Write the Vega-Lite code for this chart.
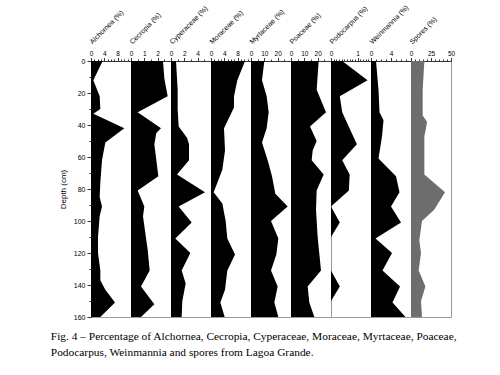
{
  "$schema": "https://vega.github.io/schema/vega-lite/v6.json",
  "background": "white",
  "padding": {"left": 50, "top": 2, "right": 5, "bottom": 5},
  "bounds": "flush",
  "spacing": 0,
  "title": {
    "text": ["Fig. 4 – Percentage of Alchornea, Cecropia, Cyperaceae, Moraceae, Myrtaceae, Poaceae,", "Podocarpus, Weinmannia and spores from Lagoa Grande."],
    "orient": "bottom", "anchor": "start", "font": "Liberation Serif", "fontSize": 11.4,
    "fontWeight": "normal", "lineHeight": 16, "offset": 10, "dx": -8, "color": "black"
  },
  "data": {"values": [
    {"taxon": "Alchornea", "depth": 0, "pct": 3.5}, {"taxon": "Alchornea", "depth": 12, "pct": 0.7}, {"taxon": "Alchornea", "depth": 22, "pct": 2.6}, {"taxon": "Alchornea", "depth": 30, "pct": 2.8}, {"taxon": "Alchornea", "depth": 33, "pct": 0.7}, {"taxon": "Alchornea", "depth": 42, "pct": 10}, {"taxon": "Alchornea", "depth": 51, "pct": 4.3}, {"taxon": "Alchornea", "depth": 62, "pct": 3.3}, {"taxon": "Alchornea", "depth": 76, "pct": 2.8}, {"taxon": "Alchornea", "depth": 85, "pct": 2.6}, {"taxon": "Alchornea", "depth": 91, "pct": 3.3}, {"taxon": "Alchornea", "depth": 97, "pct": 2.6}, {"taxon": "Alchornea", "depth": 110, "pct": 2.1}, {"taxon": "Alchornea", "depth": 120, "pct": 2.1}, {"taxon": "Alchornea", "depth": 131, "pct": 2.8}, {"taxon": "Alchornea", "depth": 137, "pct": 2.8}, {"taxon": "Alchornea", "depth": 143, "pct": 4.3}, {"taxon": "Alchornea", "depth": 151, "pct": 7.2}, {"taxon": "Alchornea", "depth": 160, "pct": 2.8},
    {"taxon": "Cecropia", "depth": 0, "pct": 2.4}, {"taxon": "Cecropia", "depth": 11, "pct": 2.5}, {"taxon": "Cecropia", "depth": 22, "pct": 2.75}, {"taxon": "Cecropia", "depth": 32, "pct": 0.5}, {"taxon": "Cecropia", "depth": 42, "pct": 2.25}, {"taxon": "Cecropia", "depth": 45, "pct": 1.9}, {"taxon": "Cecropia", "depth": 52, "pct": 1.75}, {"taxon": "Cecropia", "depth": 62, "pct": 1.9}, {"taxon": "Cecropia", "depth": 72, "pct": 2.05}, {"taxon": "Cecropia", "depth": 81, "pct": 0.5}, {"taxon": "Cecropia", "depth": 91, "pct": 1.0}, {"taxon": "Cecropia", "depth": 97, "pct": 0.9}, {"taxon": "Cecropia", "depth": 109, "pct": 1.1}, {"taxon": "Cecropia", "depth": 118, "pct": 1.25}, {"taxon": "Cecropia", "depth": 131, "pct": 1.4}, {"taxon": "Cecropia", "depth": 141, "pct": 0.75}, {"taxon": "Cecropia", "depth": 152, "pct": 1.75}, {"taxon": "Cecropia", "depth": 160, "pct": 0.75},
    {"taxon": "Cyperaceae", "depth": 0, "pct": 0.75}, {"taxon": "Cyperaceae", "depth": 18, "pct": 1.0}, {"taxon": "Cyperaceae", "depth": 30, "pct": 1.0}, {"taxon": "Cyperaceae", "depth": 41, "pct": 1.15}, {"taxon": "Cyperaceae", "depth": 48, "pct": 2.4}, {"taxon": "Cyperaceae", "depth": 52, "pct": 2.7}, {"taxon": "Cyperaceae", "depth": 62, "pct": 2.7}, {"taxon": "Cyperaceae", "depth": 71, "pct": 0.9}, {"taxon": "Cyperaceae", "depth": 82, "pct": 5.1}, {"taxon": "Cyperaceae", "depth": 91, "pct": 1.15}, {"taxon": "Cyperaceae", "depth": 101, "pct": 3.1}, {"taxon": "Cyperaceae", "depth": 111, "pct": 0.65}, {"taxon": "Cyperaceae", "depth": 120, "pct": 2.9}, {"taxon": "Cyperaceae", "depth": 131, "pct": 1.6}, {"taxon": "Cyperaceae", "depth": 139, "pct": 2.2}, {"taxon": "Cyperaceae", "depth": 150, "pct": 1.7}, {"taxon": "Cyperaceae", "depth": 160, "pct": 1.6},
    {"taxon": "Moraceae", "depth": 0, "pct": 10.2}, {"taxon": "Moraceae", "depth": 12, "pct": 7.9}, {"taxon": "Moraceae", "depth": 22, "pct": 6.9}, {"taxon": "Moraceae", "depth": 29, "pct": 6.9}, {"taxon": "Moraceae", "depth": 42, "pct": 3.9}, {"taxon": "Moraceae", "depth": 56, "pct": 4.2}, {"taxon": "Moraceae", "depth": 68, "pct": 3.4}, {"taxon": "Moraceae", "depth": 82, "pct": 0.8}, {"taxon": "Moraceae", "depth": 89, "pct": 3.4}, {"taxon": "Moraceae", "depth": 100, "pct": 4.4}, {"taxon": "Moraceae", "depth": 111, "pct": 4.9}, {"taxon": "Moraceae", "depth": 121, "pct": 7.2}, {"taxon": "Moraceae", "depth": 131, "pct": 4.9}, {"taxon": "Moraceae", "depth": 143, "pct": 4.2}, {"taxon": "Moraceae", "depth": 151, "pct": 2.8}, {"taxon": "Moraceae", "depth": 160, "pct": 4.1},
    {"taxon": "Myrtaceae", "depth": 0, "pct": 10}, {"taxon": "Myrtaceae", "depth": 12, "pct": 8.25}, {"taxon": "Myrtaceae", "depth": 22, "pct": 11.75}, {"taxon": "Myrtaceae", "depth": 32, "pct": 13.25}, {"taxon": "Myrtaceae", "depth": 42, "pct": 11.75}, {"taxon": "Myrtaceae", "depth": 51, "pct": 8.25}, {"taxon": "Myrtaceae", "depth": 62, "pct": 12.5}, {"taxon": "Myrtaceae", "depth": 72, "pct": 15.75}, {"taxon": "Myrtaceae", "depth": 83, "pct": 18.25}, {"taxon": "Myrtaceae", "depth": 91, "pct": 27.5}, {"taxon": "Myrtaceae", "depth": 100, "pct": 15}, {"taxon": "Myrtaceae", "depth": 111, "pct": 20.5}, {"taxon": "Myrtaceae", "depth": 121, "pct": 19}, {"taxon": "Myrtaceae", "depth": 131, "pct": 15}, {"taxon": "Myrtaceae", "depth": 141, "pct": 20}, {"taxon": "Myrtaceae", "depth": 151, "pct": 17.5}, {"taxon": "Myrtaceae", "depth": 160, "pct": 20.5},
    {"taxon": "Poaceae", "depth": 0, "pct": 20.75}, {"taxon": "Poaceae", "depth": 18, "pct": 19.25}, {"taxon": "Poaceae", "depth": 32, "pct": 26.25}, {"taxon": "Poaceae", "depth": 41, "pct": 14.25}, {"taxon": "Poaceae", "depth": 50, "pct": 19.25}, {"taxon": "Poaceae", "depth": 56, "pct": 16.25}, {"taxon": "Poaceae", "depth": 62, "pct": 15.5}, {"taxon": "Poaceae", "depth": 71, "pct": 24.5}, {"taxon": "Poaceae", "depth": 81, "pct": 19.25}, {"taxon": "Poaceae", "depth": 93, "pct": 18.75}, {"taxon": "Poaceae", "depth": 110, "pct": 20}, {"taxon": "Poaceae", "depth": 131, "pct": 22.5}, {"taxon": "Poaceae", "depth": 141, "pct": 12.5}, {"taxon": "Poaceae", "depth": 151, "pct": 13.75}, {"taxon": "Poaceae", "depth": 160, "pct": 17.5},
    {"taxon": "Podocarpus", "depth": 0, "pct": 0.42}, {"taxon": "Podocarpus", "depth": 12, "pct": 1.37}, {"taxon": "Podocarpus", "depth": 22, "pct": 0.33}, {"taxon": "Podocarpus", "depth": 32, "pct": 0.42}, {"taxon": "Podocarpus", "depth": 52, "pct": 0.97}, {"taxon": "Podocarpus", "depth": 62, "pct": 0.42}, {"taxon": "Podocarpus", "depth": 71, "pct": 0.7}, {"taxon": "Podocarpus", "depth": 81, "pct": 0.67}, {"taxon": "Podocarpus", "depth": 91, "pct": 0}, {"taxon": "Podocarpus", "depth": 101, "pct": 0.33}, {"taxon": "Podocarpus", "depth": 110, "pct": 0}, {"taxon": "Podocarpus", "depth": 131, "pct": 0}, {"taxon": "Podocarpus", "depth": 141, "pct": 0.33}, {"taxon": "Podocarpus", "depth": 150, "pct": 0}, {"taxon": "Podocarpus", "depth": 160, "pct": 0},
    {"taxon": "Weinmannia", "depth": 0, "pct": 1.0}, {"taxon": "Weinmannia", "depth": 18, "pct": 1.5}, {"taxon": "Weinmannia", "depth": 32, "pct": 1.7}, {"taxon": "Weinmannia", "depth": 37, "pct": 2.5}, {"taxon": "Weinmannia", "depth": 47, "pct": 2.2}, {"taxon": "Weinmannia", "depth": 61, "pct": 1.5}, {"taxon": "Weinmannia", "depth": 72, "pct": 5.0}, {"taxon": "Weinmannia", "depth": 82, "pct": 5.7}, {"taxon": "Weinmannia", "depth": 91, "pct": 4.0}, {"taxon": "Weinmannia", "depth": 101, "pct": 6.0}, {"taxon": "Weinmannia", "depth": 111, "pct": 0.9}, {"taxon": "Weinmannia", "depth": 120, "pct": 4.2}, {"taxon": "Weinmannia", "depth": 131, "pct": 2.3}, {"taxon": "Weinmannia", "depth": 141, "pct": 5.8}, {"taxon": "Weinmannia", "depth": 151, "pct": 4.3}, {"taxon": "Weinmannia", "depth": 160, "pct": 6.9},
    {"taxon": "Spores", "depth": 0, "pct": 16.7}, {"taxon": "Spores", "depth": 18, "pct": 14.6}, {"taxon": "Spores", "depth": 34, "pct": 14.6}, {"taxon": "Spores", "depth": 38, "pct": 20}, {"taxon": "Spores", "depth": 42, "pct": 18.75}, {"taxon": "Spores", "depth": 47, "pct": 16.7}, {"taxon": "Spores", "depth": 71, "pct": 16.7}, {"taxon": "Spores", "depth": 82, "pct": 42.5}, {"taxon": "Spores", "depth": 93, "pct": 29}, {"taxon": "Spores", "depth": 100, "pct": 13.75}, {"taxon": "Spores", "depth": 112, "pct": 10.4}, {"taxon": "Spores", "depth": 120, "pct": 12.5}, {"taxon": "Spores", "depth": 131, "pct": 9.6}, {"taxon": "Spores", "depth": 141, "pct": 18}, {"taxon": "Spores", "depth": 150, "pct": 12.5}, {"taxon": "Spores", "depth": 160, "pct": 13.75}
  ]},
  "hconcat": [
    {
      "width": 40, "height": 256,
      "transform": [{"filter": "datum.taxon == 'Alchornea'"}],
      "mark": {"type": "area", "orient": "horizontal", "color": "black"},
      "encoding": {
        "y": {"field": "depth", "type": "quantitative", "scale": {"domain": [0, 160], "reverse": true, "nice": false},
          "axis": {"title": "Depth (cm)", "values": [0, 10, 20, 30, 40, 50, 60, 70, 80, 90, 100, 110, 120, 130, 140, 150, 160],
            "labelExpr": "datum.value % 20 == 0 ? datum.label : ''",
            "tickSize": {"condition": {"test": "datum.value % 20 == 0", "value": 4}, "value": 2},
            "labelFontSize": 7, "titleFontSize": 8, "titlePadding": 6, "titleFontWeight": "normal", "labelPadding": 2}},
        "x": {"field": "pct", "type": "quantitative", "scale": {"domain": [0, 12], "nice": false},
          "axis": {"orient": "top", "title": "Alchornea (%)", "titleAngle": -45, "titleAlign": "left", "titleBaseline": "alphabetic", "titleX": 1, "titleY": -17,
            "values": [0, 1, 2, 3, 4, 5, 6, 7, 8, 9, 10, 11],
            "labelExpr": "datum.value % 4 == 0 ? '' + datum.value : ''",
            "tickSize": {"condition": {"test": "datum.value % 4 == 0", "value": 3.5}, "value": 2}}}
      }
    },
    {
      "width": 40, "height": 256,
      "transform": [{"filter": "datum.taxon == 'Cecropia'"}],
      "mark": {"type": "area", "orient": "horizontal", "color": "black"},
      "encoding": {
        "y": {"field": "depth", "type": "quantitative", "scale": {"domain": [0, 160], "reverse": true, "nice": false}, "axis": null},
        "x": {"field": "pct", "type": "quantitative", "scale": {"domain": [0, 3], "nice": false},
          "axis": {"orient": "top", "title": "Cecropia (%)", "titleAngle": -45, "titleAlign": "left", "titleBaseline": "alphabetic", "titleX": 1, "titleY": -17,
            "values": [0, 0.5, 1, 1.5, 2, 2.5],
            "labelExpr": "datum.value % 1 == 0 ? '' + datum.value : ''",
            "tickSize": {"condition": {"test": "datum.value % 1 == 0", "value": 3.5}, "value": 2}}}
      }
    },
    {
      "width": 40, "height": 256,
      "transform": [{"filter": "datum.taxon == 'Cyperaceae'"}],
      "mark": {"type": "area", "orient": "horizontal", "color": "black"},
      "encoding": {
        "y": {"field": "depth", "type": "quantitative", "scale": {"domain": [0, 160], "reverse": true, "nice": false}, "axis": null},
        "x": {"field": "pct", "type": "quantitative", "scale": {"domain": [0, 6], "nice": false},
          "axis": {"orient": "top", "title": "Cyperaceae (%)", "titleAngle": -45, "titleAlign": "left", "titleBaseline": "alphabetic", "titleX": 1, "titleY": -17,
            "values": [0, 1, 2, 3, 4, 5],
            "labelExpr": "datum.value % 2 == 0 ? '' + datum.value : ''",
            "tickSize": {"condition": {"test": "datum.value % 2 == 0", "value": 3.5}, "value": 2}}}
      }
    },
    {
      "width": 40, "height": 256,
      "transform": [{"filter": "datum.taxon == 'Moraceae'"}],
      "mark": {"type": "area", "orient": "horizontal", "color": "black"},
      "encoding": {
        "y": {"field": "depth", "type": "quantitative", "scale": {"domain": [0, 160], "reverse": true, "nice": false}, "axis": null},
        "x": {"field": "pct", "type": "quantitative", "scale": {"domain": [0, 12], "nice": false},
          "axis": {"orient": "top", "title": "Moraceae (%)", "titleAngle": -45, "titleAlign": "left", "titleBaseline": "alphabetic", "titleX": 1, "titleY": -17,
            "values": [0, 1, 2, 3, 4, 5, 6, 7, 8, 9, 10, 11],
            "labelExpr": "datum.value % 4 == 0 ? '' + datum.value : ''",
            "tickSize": {"condition": {"test": "datum.value % 4 == 0", "value": 3.5}, "value": 2}}}
      }
    },
    {
      "width": 40, "height": 256,
      "transform": [{"filter": "datum.taxon == 'Myrtaceae'"}],
      "mark": {"type": "area", "orient": "horizontal", "color": "black"},
      "encoding": {
        "y": {"field": "depth", "type": "quantitative", "scale": {"domain": [0, 160], "reverse": true, "nice": false}, "axis": null},
        "x": {"field": "pct", "type": "quantitative", "scale": {"domain": [0, 30], "nice": false},
          "axis": {"orient": "top", "title": "Myrtaceae (%)", "titleAngle": -45, "titleAlign": "left", "titleBaseline": "alphabetic", "titleX": 1, "titleY": -17,
            "values": [0, 5, 10, 15, 20, 25],
            "labelExpr": "datum.value % 10 == 0 ? '' + datum.value : ''",
            "tickSize": {"condition": {"test": "datum.value % 10 == 0", "value": 3.5}, "value": 2}}}
      }
    },
    {
      "width": 40, "height": 256,
      "transform": [{"filter": "datum.taxon == 'Poaceae'"}],
      "mark": {"type": "area", "orient": "horizontal", "color": "black"},
      "encoding": {
        "y": {"field": "depth", "type": "quantitative", "scale": {"domain": [0, 160], "reverse": true, "nice": false}, "axis": null},
        "x": {"field": "pct", "type": "quantitative", "scale": {"domain": [0, 30], "nice": false},
          "axis": {"orient": "top", "title": "Poaceae (%)", "titleAngle": -45, "titleAlign": "left", "titleBaseline": "alphabetic", "titleX": 1, "titleY": -17,
            "values": [0, 5, 10, 15, 20, 25],
            "labelExpr": "datum.value % 10 == 0 ? '' + datum.value : ''",
            "tickSize": {"condition": {"test": "datum.value % 10 == 0", "value": 3.5}, "value": 2}}}
      }
    },
    {
      "width": 40, "height": 256,
      "transform": [{"filter": "datum.taxon == 'Podocarpus'"}],
      "mark": {"type": "area", "orient": "horizontal", "color": "black"},
      "encoding": {
        "y": {"field": "depth", "type": "quantitative", "scale": {"domain": [0, 160], "reverse": true, "nice": false}, "axis": null},
        "x": {"field": "pct", "type": "quantitative", "scale": {"domain": [0, 1.5], "nice": false},
          "axis": {"orient": "top", "title": "Podocarpus (%)", "titleAngle": -45, "titleAlign": "left", "titleBaseline": "alphabetic", "titleX": 1, "titleY": -17,
            "values": [0, 0.1, 0.2, 0.3, 0.4, 0.5, 0.6, 0.7, 0.8, 0.9, 1, 1.1, 1.2, 1.3, 1.4],
            "labelExpr": "datum.value == 0 || datum.value == 1 ? '' + datum.value : ''",
            "tickSize": {"condition": {"test": "datum.value == 0 || datum.value == 1", "value": 3.5}, "value": 2}}}
      }
    },
    {
      "width": 40, "height": 256,
      "transform": [{"filter": "datum.taxon == 'Weinmannia'"}],
      "mark": {"type": "area", "orient": "horizontal", "color": "black"},
      "encoding": {
        "y": {"field": "depth", "type": "quantitative", "scale": {"domain": [0, 160], "reverse": true, "nice": false}, "axis": null},
        "x": {"field": "pct", "type": "quantitative", "scale": {"domain": [0, 8], "nice": false},
          "axis": {"orient": "top", "title": "Weinmannia (%)", "titleAngle": -45, "titleAlign": "left", "titleBaseline": "alphabetic", "titleX": 1, "titleY": -17,
            "values": [0, 1, 2, 3, 4, 5, 6, 7],
            "labelExpr": "datum.value % 4 == 0 ? '' + datum.value : ''",
            "tickSize": {"condition": {"test": "datum.value % 4 == 0", "value": 3.5}, "value": 2}}}
      }
    },
    {
      "width": 40, "height": 256,
      "transform": [{"filter": "datum.taxon == 'Spores'"}],
      "mark": {"type": "area", "orient": "horizontal", "color": "#6e6e6e"},
      "encoding": {
        "y": {"field": "depth", "type": "quantitative", "scale": {"domain": [0, 160], "reverse": true, "nice": false}, "axis": null},
        "x": {"field": "pct", "type": "quantitative", "scale": {"domain": [0, 50], "nice": false},
          "axis": {"orient": "top", "title": "Spores (%)", "titleAngle": -45, "titleAlign": "left", "titleBaseline": "alphabetic", "titleX": 1, "titleY": -17,
            "values": [0, 5, 10, 15, 20, 25, 30, 35, 40, 45, 50],
            "labelExpr": "datum.value % 25 == 0 ? '' + datum.value : ''",
            "tickSize": {"condition": {"test": "datum.value % 25 == 0", "value": 3.5}, "value": 2}}}
      }
    }
  ],
  "config": {
    "font": "Liberation Sans",
    "view": {"stroke": "#9a9a9a", "strokeWidth": 1},
    "axis": {"labelFont": "Liberation Sans", "titleFont": "Liberation Sans", "labelColor": "black", "titleColor": "black",
      "domainColor": "#333", "tickColor": "#333", "grid": false},
    "axisX": {"labelFontSize": 6.5, "labelPadding": 1.5, "labelFlush": false, "labelOverlap": false,
      "titleFontSize": 7, "titleFontWeight": "normal"}
  }
}
